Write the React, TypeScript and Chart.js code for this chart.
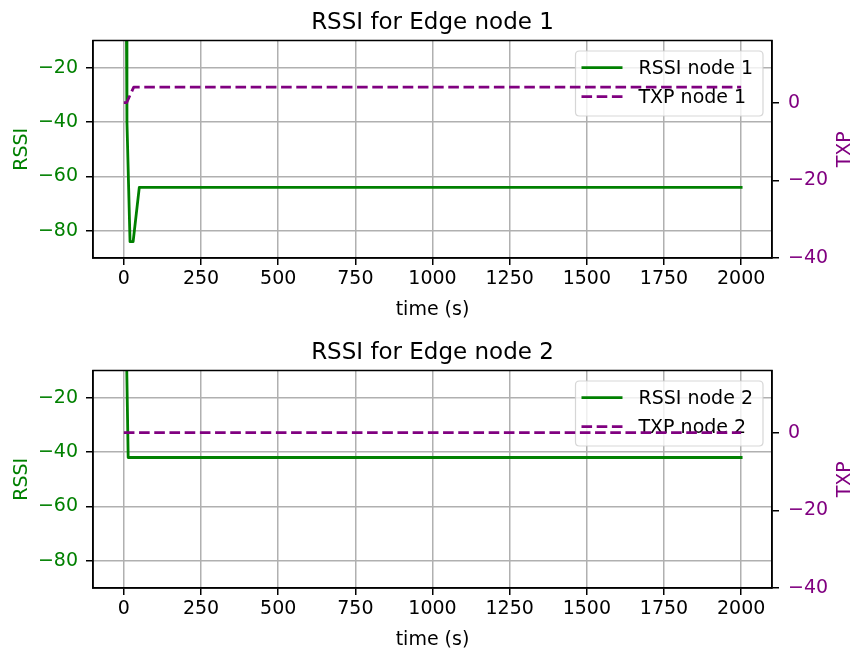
import React, { useEffect, useRef } from 'react';
import { Chart, registerables } from 'chart.js';

Chart.register(...registerables);

const FONT = '"DejaVu Sans", sans-serif';
const W = 854;
const H = 322;

// ---- data ----
const xTicks = [0, 250, 500, 750, 1000, 1250, 1500, 1750, 2000];
const rssiTicks = [-80, -60, -40, -20];
const txpTicks = [-40, -20, 0];

const titles = ['RSSI for Edge node 1', 'RSSI for Edge node 2'];
const rssiLabels = ['RSSI node 1', 'RSSI node 2'];
const txpLabels = ['TXP node 1', 'TXP node 2'];

const rssi1Times = [8, 10, 20, 30, 50, 2000];
const rssi1Values = [0, -40, -84, -84, -64, -64];
const txp1Times = [0, 9, 32, 2000];
const txp1Values = [0, 0, 4, 4];

const rssi2Times = [8, 14, 2000];
const rssi2Values = [0, -42, -42];
const txp2Times = [0, 2000];
const txp2Values = [0, 0];

const PANELS = [
  { title: titles[0], rssiLabel: rssiLabels[0], txpLabel: txpLabels[0], rT: rssi1Times, rV: rssi1Values, tT: txp1Times, tV: txp1Values },
  { title: titles[1], rssiLabel: rssiLabels[1], txpLabel: txpLabels[1], rT: rssi2Times, rV: rssi2Values, tT: txp2Times, tV: txp2Values },
];

const GREEN = 'green';
const PURPLE = 'purple';
const LW = 2.8;
const DASH = [10.6, 4.6];

const fmt = (v: number) => (v < 0 ? '\u2212' + Math.abs(v) : String(v));

function drawLegend(chart: any, opts: any) {
  const { ctx, chartArea: a } = chart;
  ctx.save();
  ctx.font = `19px ${FONT}`;
  const tw = Math.max(ctx.measureText(opts.l1).width, ctx.measureText(opts.l2).width);
  const right = a.right - 9;
  const top = a.top + 10.5;
  const width = 63 + tw + 10;
  const left = right - width;
  const height = 65;
  const r = 4;
  ctx.beginPath();
  ctx.moveTo(left + r, top);
  ctx.lineTo(right - r, top);
  ctx.quadraticCurveTo(right, top, right, top + r);
  ctx.lineTo(right, top + height - r);
  ctx.quadraticCurveTo(right, top + height, right - r, top + height);
  ctx.lineTo(left + r, top + height);
  ctx.quadraticCurveTo(left, top + height, left, top + height - r);
  ctx.lineTo(left, top + r);
  ctx.quadraticCurveTo(left, top, left + r, top);
  ctx.closePath();
  ctx.fillStyle = 'rgba(255,255,255,0.8)';
  ctx.fill();
  ctx.strokeStyle = 'rgba(204,204,204,0.8)';
  ctx.lineWidth = 1.2;
  ctx.stroke();

  // handles
  ctx.lineWidth = LW;
  ctx.lineCap = 'butt';
  ctx.strokeStyle = GREEN;
  ctx.beginPath();
  ctx.moveTo(left + 6, top + 16.7);
  ctx.lineTo(left + 47, top + 16.7);
  ctx.stroke();
  ctx.strokeStyle = PURPLE;
  ctx.setLineDash(DASH);
  ctx.beginPath();
  ctx.moveTo(left + 6, top + 45.7);
  ctx.lineTo(left + 47, top + 45.7);
  ctx.stroke();
  ctx.setLineDash([]);

  ctx.fillStyle = '#000';
  ctx.textAlign = 'left';
  ctx.textBaseline = 'alphabetic';
  ctx.fillText(opts.l1, left + 63, top + 23.3);
  ctx.fillText(opts.l2, left + 63, top + 52.3);
  ctx.restore();
}

const decorPlugin = {
  id: 'decor',
  afterDatasetDraw(chart: any, args: any, opts: any) {
    if (args.index === 0) drawLegend(chart, opts);
  },
  afterDatasetsDraw(chart: any) {
    const { ctx, chartArea: a } = chart;
    ctx.save();
    ctx.strokeStyle = '#000';
    ctx.lineWidth = 1.5;
    ctx.strokeRect(a.left, a.top, a.right - a.left, a.bottom - a.top);
    ctx.restore();
  },
  afterDraw(chart: any, _args: any, opts: any) {
    const { ctx, chartArea: a } = chart;
    const cx = (a.left + a.right) / 2;
    const cy = (a.top + a.bottom) / 2;
    ctx.save();
    ctx.textBaseline = 'alphabetic';
    ctx.textAlign = 'center';
    ctx.fillStyle = '#000';
    ctx.font = `23px ${FONT}`;
    ctx.fillText(opts.title, cx, 29.3);
    ctx.font = `19px ${FONT}`;
    ctx.fillText('time (s)', cx, 315);

    ctx.save();
    ctx.translate(26.7, cy);
    ctx.rotate(-Math.PI / 2);
    ctx.fillStyle = GREEN;
    ctx.fillText('RSSI', 0, 0);
    ctx.restore();

    ctx.save();
    ctx.translate(850, cy);
    ctx.rotate(-Math.PI / 2);
    ctx.fillStyle = PURPLE;
    ctx.fillText('TXP', 0, 0);
    ctx.restore();

    ctx.restore();
  },
};

const gridCommon = {
  color: '#b0b0b0',
  lineWidth: 1.5,
  tickColor: '#000',
  tickLength: 7,
  tickWidth: 1.5,
};
const borderCommon = { color: '#000', width: 1.5 };

function Panel({ idx, top }: { idx: number; top: number }) {
  const ref = useRef<HTMLCanvasElement>(null);
  useEffect(() => {
    const p = PANELS[idx];
    const chart = new Chart(ref.current as HTMLCanvasElement, {
      type: 'line',
      data: {
        datasets: [
          {
            label: p.rssiLabel,
            data: p.rT.map((t, i) => ({ x: t, y: p.rV[i] })),
            yAxisID: 'y',
            borderColor: GREEN,
            borderWidth: LW,
            pointRadius: 0,
            tension: 0,
            fill: false,
            clip: 0,
            order: 1,
            borderJoinStyle: 'round',
            borderCapStyle: 'square',
          },
          {
            label: p.txpLabel,
            data: p.tT.map((t, i) => ({ x: t, y: p.tV[i] })),
            yAxisID: 'y2',
            borderColor: PURPLE,
            borderWidth: LW,
            borderDash: DASH,
            pointRadius: 0,
            tension: 0,
            fill: false,
            clip: 0,
            order: 0,
            borderJoinStyle: 'round',
            borderCapStyle: 'butt',
          },
        ],
      } as any,
      options: {
        responsive: false,
        animation: false,
        events: [],
        layout: { padding: { top: 40.5, left: 0, right: 0, bottom: 0 } },
        plugins: {
          legend: { display: false },
          tooltip: { enabled: false },
          title: { display: false },
          decor: { title: p.title, l1: p.rssiLabel, l2: p.txpLabel },
        } as any,
        scales: {
          x: {
            type: 'linear',
            position: 'bottom',
            min: -100,
            max: 2100,
            afterBuildTicks: (s: any) => {
              s.ticks = xTicks.map((v) => ({ value: v }));
            },
            afterFit: (s: any) => {
              s.height = H - 258;
            },
            ticks: {
              font: { family: FONT, size: 19 },
              color: '#000',
              padding: 3,
              maxRotation: 0,
              autoSkip: false,
              callback: (v: any) => fmt(Number(v)),
            },
            grid: gridCommon,
            border: borderCommon,
          },
          y: {
            type: 'linear',
            position: 'left',
            min: -90,
            max: -10,
            afterBuildTicks: (s: any) => {
              s.ticks = rssiTicks.map((v) => ({ value: v }));
            },
            afterFit: (s: any) => {
              s.width = 93;
            },
            ticks: {
              font: { family: FONT, size: 19 },
              color: GREEN,
              padding: 8,
              autoSkip: false,
              callback: (v: any) => fmt(Number(v)),
            },
            grid: gridCommon,
            border: borderCommon,
          },
          y2: {
            type: 'linear',
            position: 'right',
            min: -40,
            max: 16,
            afterBuildTicks: (s: any) => {
              s.ticks = txpTicks.map((v) => ({ value: v }));
            },
            afterFit: (s: any) => {
              s.width = W - 772;
            },
            ticks: {
              font: { family: FONT, size: 19 },
              color: PURPLE,
              padding: 9,
              autoSkip: false,
              callback: (v: any) => fmt(Number(v)),
            },
            grid: { ...gridCommon, drawOnChartArea: false },
            border: borderCommon,
          },
        } as any,
      },
      plugins: [decorPlugin as any],
    });
    return () => chart.destroy();
  }, [idx]);
  return (
    <canvas
      ref={ref}
      width={W}
      height={H}
      style={{ position: 'absolute', left: 0, top, width: W, height: H, display: 'block' }}
    />
  );
}

export default function App() {
  return (
    <div style={{ position: 'absolute', left: 0, top: 0, width: W, height: 653, background: '#fff' }}>
      <Panel idx={0} top={0} />
      <Panel idx={1} top={330} />
    </div>
  );
}
